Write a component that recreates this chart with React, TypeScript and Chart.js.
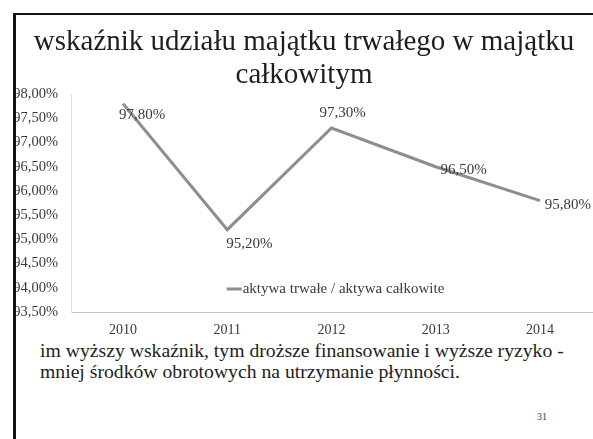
import React, { useEffect, useRef } from "react";
import { Chart, registerables } from "chart.js";

Chart.register(...registerables);

const years = ["2010", "2011", "2012", "2013", "2014"];
const ratioValues = [97.8, 95.2, 97.3, 96.5, 95.8];
const seriesLabel = "aktywa trwałe / aktywa całkowite";
const titleLines = ["wskaźnik udziału majątku trwałego w majątku", "całkowitym"];
const yMin = 93.5;
const yMax = 98;
const yStep = 0.5;
const noteLines = [
  "im wyższy wskaźnik, tym droższe finansowanie i wyższe ryzyko -",
  "mniej środków obrotowych na utrzymanie płynności.",
];
const pageNumber = "31";

const FONT = "'Liberation Serif', 'Times New Roman', serif";
const LINE_COLOR = "#8e8e8e";

const fmt = (v: number) => v.toFixed(2).replace(".", ",") + "%";

// label centre offsets from each point (style only)
const labelOffsets: [number, number][] = [
  [19, 11],
  [22, 14],
  [11, -15],
  [28, 3],
  [28, 4],
];

const labelsPlugin = {
  id: "pointLabels",
  afterDatasetsDraw(chart: any) {
    const ctx = chart.ctx;
    const meta = chart.getDatasetMeta(0);
    const data = chart.data.datasets[0].data as number[];
    ctx.save();
    ctx.font = `15px ${FONT}`;
    ctx.fillStyle = "#3a3a3a";
    ctx.textAlign = "center";
    ctx.textBaseline = "middle";
    meta.data.forEach((el: any, i: number) => {
      const [dx, dy] = labelOffsets[i] || [0, 0];
      ctx.fillText(fmt(data[i]), el.x + dx, el.y + dy);
    });
    ctx.restore();
  },
};

const innerLegendPlugin = {
  id: "innerLegend",
  afterDraw(chart: any) {
    const ctx = chart.ctx;
    const area = chart.chartArea;
    const label = chart.data.datasets[0].label as string;
    ctx.save();
    ctx.font = `15px ${FONT}`;
    const tw = ctx.measureText(label).width;
    const sample = 15;
    const total = sample + 1 + tw;
    const cx = (area.left + area.right) / 2 + 4;
    const x0 = cx - total / 2;
    const y = area.bottom - 23;
    ctx.strokeStyle = LINE_COLOR;
    ctx.lineWidth = 3;
    ctx.beginPath();
    ctx.moveTo(x0, y);
    ctx.lineTo(x0 + sample, y);
    ctx.stroke();
    ctx.fillStyle = "#3a3a3a";
    ctx.textAlign = "left";
    ctx.textBaseline = "middle";
    ctx.fillText(label, x0 + sample + 1, y);
    ctx.restore();
  },
};

function ChartBox() {
  const ref = useRef<HTMLCanvasElement | null>(null);
  useEffect(() => {
    if (!ref.current) return;
    const chart = new Chart(ref.current, {
      type: "line",
      data: {
        labels: years,
        datasets: [
          {
            label: seriesLabel,
            data: ratioValues,
            borderColor: LINE_COLOR,
            backgroundColor: LINE_COLOR,
            borderWidth: 3,
            pointRadius: 0,
            tension: 0,
            fill: false,
          },
        ],
      },
      options: {
        animation: false,
        responsive: false,
        layout: { padding: { left: 0, right: 1, top: 0, bottom: 0 } },
        plugins: {
          legend: { display: false },
          tooltip: { enabled: false },
          title: {
            display: true,
            text: titleLines,
            color: "#1e1e1e",
            font: { family: FONT, size: 29, weight: "normal", lineHeight: 1.14 },
            padding: { top: 11, bottom: 2 },
          },
        },
        scales: {
          x: {
            offset: true,
            grid: { display: false, drawTicks: false },
            border: { display: true, color: "#c4c4c4", width: 1 },
            ticks: {
              color: "#3a3a3a",
              font: { family: FONT, size: 14 },
              padding: 10,
              maxRotation: 0,
            },
            afterFit: (s: any) => {
              s.height = 27;
            },
          },
          y: {
            min: yMin,
            max: yMax,
            grid: { display: false, drawTicks: false },
            border: { display: true, color: "#dedede", width: 1 },
            ticks: {
              stepSize: yStep,
              color: "#3a3a3a",
              font: { family: FONT, size: 14.5 },
              padding: 13,
              callback: (v: any) => fmt(Number(v)),
            },
            afterFit: (s: any) => {
              s.width = 55;
            },
          },
        },
      },
      plugins: [labelsPlugin, innerLegendPlugin],
    } as any);
    return () => chart.destroy();
  }, []);
  return (
    <canvas
      ref={ref}
      width={577}
      height={324}
      style={{ position: "absolute", left: 16, top: 15, width: 577, height: 324 }}
    />
  );
}

export default function App() {
  return (
    <div
      style={{
        position: "fixed",
        left: 0,
        top: 0,
        width: 593,
        height: 439,
        background: "#fff",
        overflow: "hidden",
        fontFamily: FONT,
      }}
    >
      <ChartBox />
      <div
        style={{
          position: "absolute",
          left: 40,
          top: 340,
          fontSize: 19.7,
          lineHeight: "21px",
          color: "#1e1e1e",
          whiteSpace: "nowrap",
        }}
      >
        {noteLines.map((l, i) => (
          <div key={i}>{l}</div>
        ))}
      </div>
      <div
        style={{
          position: "absolute",
          left: 537,
          top: 411,
          fontSize: 10,
          color: "#444",
        }}
      >
        {pageNumber}
      </div>
      <div
        style={{
          position: "absolute",
          left: 13,
          top: 13,
          width: 620,
          height: 480,
          borderLeft: "3px solid #141414",
          borderTop: "2px solid #141414",
          pointerEvents: "none",
        }}
      />
    </div>
  );
}
